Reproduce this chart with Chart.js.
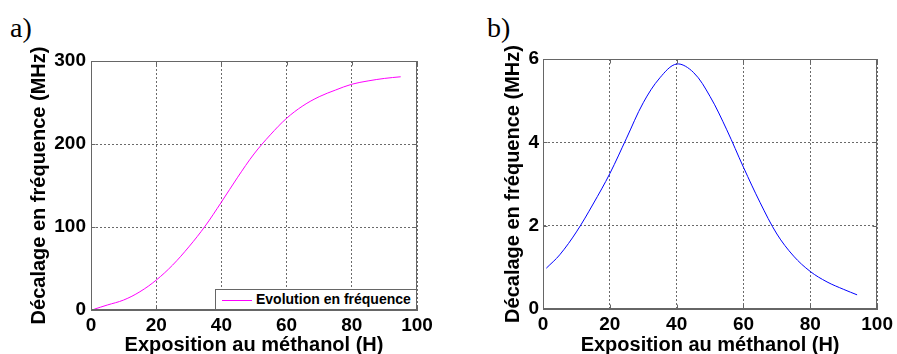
<!DOCTYPE html>
<html>
<head>
<meta charset="utf-8">
<script src="https://cdn.jsdelivr.net/npm/chart.js@4.4.0/dist/chart.umd.min.js"></script>
<style>
  body { margin: 0; overflow: hidden; background: #fff; }
  #wrap { position: relative; width: 897px; height: 354px; overflow: hidden; }
  canvas { position: absolute; top: 0; }
  .lbl { position: absolute; font-family: "Liberation Serif", "Times New Roman", serif; font-size: 28px; line-height: 1; color: #000; }
  #legendA { position: absolute; left: 215px; top: 289px; width: 202px; height: 21px; box-sizing: border-box;
    border: 1px solid #666; background: #fff; font-family: "Liberation Sans", Arial, sans-serif; font-weight: bold;
    font-size: 14px; line-height: 19px; white-space: nowrap; }
  #legendA .sw { display: inline-block; width: 30px; height: 0; border-top: 1px solid #ff00ff; vertical-align: middle; margin: 0 4px 0 6px; }
</style>
</head>
<body>
<div id="wrap">
  <div class="lbl" style="left:10px;top:14px">a)</div>
  <div class="lbl" style="left:487px;top:14px">b)</div>
  <canvas id="chartA" width="440" height="357" style="left:0"></canvas>
  <canvas id="chartB" width="447" height="357" style="left:450px"></canvas>
  <div id="legendA"><span class="sw"></span>Evolution en fréquence</div>
</div>
<script>
// a) evolution en frequence
const hoursA = [1, 5, 10, 15, 20, 25, 30, 35, 40, 45, 50, 55, 60, 65, 70, 75, 80, 85, 90, 95];
const freqA = [1, 6, 12, 22, 36, 54, 76, 101, 130, 160, 188, 211, 231, 246, 257, 265, 272, 276, 279, 281];

// b) derivee
const hoursB = [1, 5, 10, 15, 20, 25, 30, 35, 40, 45, 50, 55, 60, 65, 70, 75, 80, 85, 90, 94];
const freqB = [0.98, 1.3, 1.85, 2.52, 3.25, 4.1, 4.95, 5.55, 5.88, 5.68, 5.1, 4.3, 3.4, 2.55, 1.8, 1.27, 0.9, 0.65, 0.47, 0.34];

const legendLabel = "Evolution en fréquence";
const xTitle = "Exposition au méthanol (H)";
const yTitle = "Décalage en fréquence (MHz)";

const fontFam = "'Liberation Sans', Arial, sans-serif";

// cadre complet + petites graduations interieures (style matlab)
const boxPlugin = {
  id: "box",
  afterDraw(chart) {
    const ctx = chart.ctx;
    const a = chart.chartArea;
    const l = Math.round(a.left) + 0.5, r = Math.round(a.right) - 0.5;
    const t = Math.round(a.top) + 0.5, b = Math.round(a.bottom) - 0.5;
    ctx.save();
    ctx.strokeStyle = "#666";
    ctx.lineWidth = 1;
    ctx.strokeRect(l, t, r - l, b - t);
    ctx.beginPath();
    chart.scales.x.ticks.forEach(tk => {
      const px = Math.round(chart.scales.x.getPixelForValue(tk.value)) + 0.5;
      ctx.moveTo(px, b); ctx.lineTo(px, b - 4);
      ctx.moveTo(px, t); ctx.lineTo(px, t + 4);
    });
    chart.scales.y.ticks.forEach(tk => {
      const py = Math.round(chart.scales.y.getPixelForValue(tk.value)) + 0.5;
      ctx.moveTo(l, py); ctx.lineTo(l + 4, py);
      ctx.moveTo(r, py); ctx.lineTo(r - 4, py);
    });
    ctx.stroke();
    ctx.restore();
  }
};

function makeConfig(xs, ys, color, label, yMax, yStep, pad, yWidth, xHeight, yTickPad) {
  const points = xs.map((x, i) => ({ x: x, y: ys[i] }));
  return {
    type: "line",
    data: {
      datasets: [{
        label: label,
        data: points,
        borderColor: color,
        borderWidth: 1,
        pointRadius: 0,
        fill: false,
        tension: 0.35
      }]
    },
    options: {
      responsive: false,
      animation: false,
      devicePixelRatio: 1,
      layout: { padding: pad },
      plugins: { legend: { display: false }, tooltip: { enabled: false } },
      scales: {
        x: {
          type: "linear",
          min: 0,
          max: 100,
          afterFit: s => { s.height = xHeight; },
          ticks: { stepSize: 20, maxRotation: 0, padding: 4, color: "#000", font: { family: fontFam, size: 19, weight: "bold" } },
          grid: { color: "#6a6a6a", drawTicks: false },
          border: { display: true, color: "#666", dash: [2, 2] },
          title: { display: true, text: xTitle, color: "#000", padding: 0, font: { family: fontFam, size: 20, weight: "bold" } }
        },
        y: {
          min: 0,
          max: yMax,
          afterFit: s => { s.width = yWidth; },
          ticks: { stepSize: yStep, padding: yTickPad, color: "#000", font: { family: fontFam, size: 19, weight: "bold" } },
          grid: { color: "#6a6a6a", drawTicks: false },
          border: { display: true, color: "#666", dash: [2, 2] },
          title: { display: true, text: yTitle, color: "#000", padding: 0, font: { family: fontFam, size: 20, weight: "bold" } }
        }
      }
    },
    plugins: [boxPlugin]
  };
}

const chartA = new Chart(document.getElementById("chartA"),
  makeConfig(hoursA, freqA, "#ff00ff", legendLabel, 300, 100, { left: 27, top: 61, right: 23, bottom: 0 }, 64, 47, 5));

const chartB = new Chart(document.getElementById("chartB"),
  makeConfig(hoursB, freqB, "#0000ff", "Décalage", 6, 2, { left: 51, top: 59, right: 17, bottom: 0 }, 42, 48, 4));
</script>
</body>
</html>
